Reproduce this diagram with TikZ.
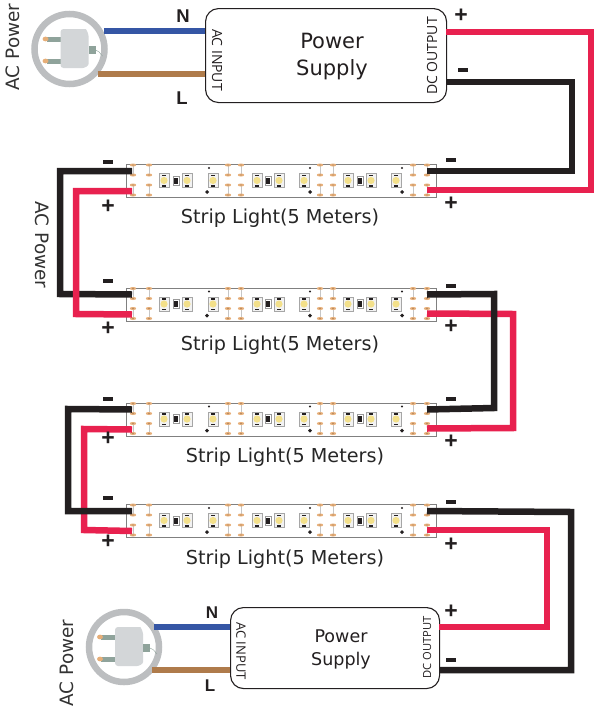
\documentclass[tikz,border=0pt]{standalone}
\usepackage{fontspec}
\setmainfont{DejaVu Sans}
\newfontfamily\labelfont{Open Sans}
\newfontfamily\signfont{Liberation Sans}
\definecolor{wirered}{HTML}{E8214F}
\definecolor{wireblack}{HTML}{231F20}
\definecolor{wireblue}{HTML}{3556A5}
\definecolor{wirebrown}{HTML}{AF7B4B}
\definecolor{ringgray}{HTML}{BCBEC0}
\definecolor{padorange}{HTML}{E6AE78}
\definecolor{edgegray}{HTML}{808080}
\definecolor{ledyellow}{HTML}{F3E08A}
\definecolor{bodygray}{HTML}{D3D6D8}
\definecolor{pingray}{HTML}{8FA39B}
\tikzset{
  redwire/.style={draw=wirered,line width=6.5pt,miter limit=10},
  blackwire/.style={draw=wireblack,line width=6.5pt,miter limit=10},
  bluewire/.style={draw=wireblue,line width=6.5pt},
  brownwire/.style={draw=wirebrown,line width=6.5pt},
  psubox/.style={draw=wireblack,line width=1.1pt,fill=white,rounded corners=13pt,inner sep=0pt},
  stripbox/.style={draw=edgegray,line width=0.8pt,fill=white,minimum width=310pt,minimum height=33pt,inner sep=0pt},
  striptext/.style={font=\fontsize{19.2}{21}\selectfont,text=black!85,inner sep=0pt},
  sign/.style={font=\signfont\bfseries\fontsize{23}{23}\selectfont,text=wireblack,inner sep=0pt},
  minus/.style={fill=wireblack,minimum width=10pt,minimum height=4pt,inner sep=0pt},
  letter/.style={font=\signfont\bfseries\fontsize{18.5}{20}\selectfont,text=wireblack,inner sep=0pt},
  psutext/.style={font=\fontsize{21}{27}\selectfont,align=center,text=wireblack,inner sep=0pt},
  sidelabel/.style={font=\labelfont\fontsize{14}{15}\selectfont,text=wireblack,inner sep=0pt},
  acpower/.style={font=\fontsize{18.4}{19}\selectfont,text=black!80,inner sep=0pt},
}
\newcommand{\ledchip}[1]{%
  \filldraw[draw=edgegray!70,fill=black!5,line width=0.5pt] (#1-5,9.5) rectangle (#1+5,23.5);
  \fill[wireblack] (#1-2,10.5) rectangle (#1+2,12);
  \fill[wireblack] (#1-2,21) rectangle (#1+2,22.5);
  \fill[ledyellow] (#1,16.5) circle (3.6pt);}
\newcommand{\resistor}[1]{%
  \draw[draw=edgegray!80,line width=0.4pt] (#1-3,12) rectangle (#1+3,21);
  \fill[wireblack] (#1-1.7,13.5) rectangle (#1+1.7,19.5);}
\newcommand{\padcolumn}[1]{%
  \draw[edgegray!45,line width=0.4pt] (#1,1) -- (#1,11) (#1,21) -- (#1,31);
  \foreach \py in {1,11,21,31}{
    \fill[padorange] (#1,\py) ellipse (3.2pt and 1.5pt);
    \fill[wireblack] (#1,\py) circle (0.4pt);}}
\newcommand{\ledstrip}[3]{%
  \node[stripbox,anchor=north west] (#1) at (#2,#3) {};
  \begin{scope}[shift={(#2,#3)}]
    \foreach \cx in {7,23,102,115,194,207,287,301}{\padcolumn{\cx}}
    \foreach \cx in {38,61,87,131,153,178,222,245,270}{\ledchip{\cx}}
    \foreach \cx in {50,142,234}{\resistor{\cx}}
    \foreach \cx in {83,184,276}{\fill[wireblack] (\cx,4) circle (1.2pt);}
    \foreach \cx in {81,184,276}{\fill[wireblack] (\cx-2,28) -- (\cx,26) -- (\cx+2,28) -- (\cx,30) -- cycle;}
    \coordinate (#1-lt) at (6,7);
    \coordinate (#1-lb) at (6,27);
    \coordinate (#1-rt) at (301,7);
    \coordinate (#1-rb) at (301,26);
  \end{scope}}
\newcommand{\acplug}[3]{%
  \node[circle,draw=ringgray,line width=6.5pt,fill=white,minimum size=70pt,inner sep=0pt] (#1) at (#2,#3) {};
  \begin{scope}[shift={(#2,#3)}]
    \fill[pingray] (-23,-12.5) rectangle (-6,-7.5);
    \fill[pingray] (-23,9.5) rectangle (-6,14.5);
    \fill[padorange] (-24,-10) ellipse (3pt and 2.4pt);
    \fill[padorange] (-24,12) ellipse (3pt and 2.4pt);
    \fill[bodygray,rounded corners=3pt] (-9,-20) -- (13,-20) .. controls (17,-20) and (19,-15) .. (19,-10) -- (19,12) .. controls (19,17) and (15,19) .. (10,19) -- (-9,19) -- cycle;
    \fill[pingray] (19,-3) rectangle (26,5);
    \draw[pingray,line width=0.4pt] (26,1) .. controls (29,1) and (30,4) .. (33,7);
  \end{scope}}
\begin{document}
\begin{tikzpicture}[x=1pt,y=-1pt]
\useasboundingbox (0,0) rectangle (601,712);
% mains plugs
\acplug{plugA}{69.5}{49}
\acplug{plugB}{124}{647}
% power supplies
\node[psubox,minimum width=241pt,minimum height=94pt,anchor=north west] (psuA) at (205,8) {};
\node[psubox,minimum width=209pt,minimum height=81pt,anchor=north west] (psuB) at (230,607) {};
\node[psutext] (psuAtext) at (332,57) {Power\\Supply};
\node[psutext,font=\fontsize{17.5}{23}\selectfont] (psuBtext) at (341,649) {Power\\Supply};
\node[sidelabel,rotate=-90] (acinA) at (217,60) {AC INPUT};
\node[sidelabel,rotate=90] (dcoutA) at (432,56) {DC OUTPUT};
\node[sidelabel,rotate=-90,font=\labelfont\fontsize{13}{14}\selectfont] (acinB) at (241,651) {AC INPUT};
\node[sidelabel,rotate=90,font=\labelfont\fontsize{11.2}{12}\selectfont] (dcoutB) at (427,647.5) {DC OUTPUT};
% strips
\ledstrip{s1}{126}{164}
\ledstrip{s2}{126}{287.5}
\ledstrip{s3}{126}{402.5}
\ledstrip{s4}{126}{504}
% mains wires
\coordinate (blueA) at (205,31); \coordinate (brownA) at (205,74);
\coordinate (blueB) at (230,627); \coordinate (brownB) at (230,670);
\draw[bluewire] (plugA.center) ++(34.5,-18) -- (blueA);
\draw[brownwire] (plugA.center) ++(28,25) -- (brownA);
\draw[bluewire] (plugB.center) ++(30,-20) -- (blueB);
\draw[brownwire] (plugB.center) ++(28,23) -- (brownB);
% output wires, supply A to strip 1
\coordinate (aplus) at (446,32); \coordinate (aminus) at (446,82);
\draw[redwire] (aplus) -- (591,32) -- (591,190) -- (s1-rb);
\draw[blackwire] (aminus) -- (572,82) -- (572,171) -- (s1-rt);
% strip 1 to strip 2
\draw[blackwire] (s1-lt) -- (60,171) -- (60,294) -- (s2-lt);
\draw[redwire] (s1-lb) -- (76,191) -- (76,314) -- (s2-lb);
% strip 2 to strip 3
\draw[redwire] (s2-rb) -- (513,314) -- (513,428) -- (s3-rb);
\draw[blackwire] (s2-rt) -- (494,294) -- (494,408) -- (s3-rt);
% strip 3 to strip 4
\draw[redwire] (s3-lb) -- (84,429) -- (84,530) -- (s4-lb);
\draw[blackwire] (s3-lt) -- (68,409) -- (68,511) -- (s4-lt);
% strip 4 to supply B
\coordinate (bplus) at (439,627); \coordinate (bminus) at (439,670);
\draw[redwire] (s4-rb) -- (547,530) -- (547,627) -- (bplus);
\draw[blackwire] (s4-rt) -- (571,512) -- (571,670) -- (bminus);
% strip captions
\node[striptext] (cap1) at (280,218) {Strip Light(5 Meters)};
\node[striptext] (cap2) at (280,345) {Strip Light(5 Meters)};
\node[striptext] (cap3) at (285,457) {Strip Light(5 Meters)};
\node[striptext] (cap4) at (285,559) {Strip Light(5 Meters)};
% AC labels
\node[acpower,rotate=90] (acA) at (13,47) {AC Power};
\node[acpower,rotate=-90] (acM) at (42,245) {AC Power};
\node[acpower,rotate=90] (acB) at (67,663) {AC Power};
\node[letter] (nA) at (183,16) {N};
\node[letter] (lA) at (182,98) {L};
\node[letter,font=\signfont\bfseries\fontsize{17}{18}\selectfont] (nB) at (212,613) {N};
\node[letter,font=\signfont\bfseries\fontsize{17}{18}\selectfont] (lB) at (210,686) {L};
% polarity marks
\foreach \nm/\px/\py in {pa/461/16,pb/451/204,pc/108/207,pd/108/329,pe/451/327,pf/451/442,pg/108/439,ph/108/542,pi/451/545,pj/451/612}
  \node[sign] (\nm) at (\px,\py) {+};
\foreach \nm/\px/\py in {ma/463/70,mb/451/160,mc/108/162,md/108/281,me/451/286,mf/451/399,mg/108/399,mh/108/498,mi/451/502,mj/451/660}
  \node[minus] (\nm) at (\px,\py) {};
\end{tikzpicture}
\end{document}
